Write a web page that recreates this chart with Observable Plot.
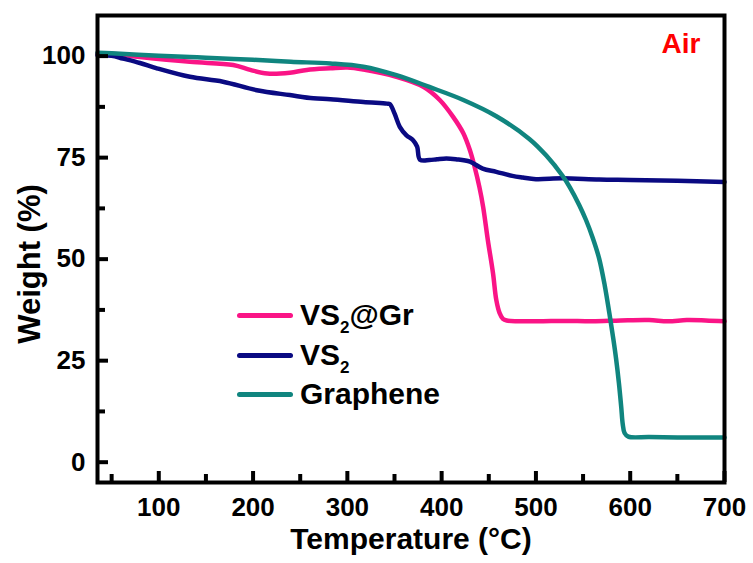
<!DOCTYPE html>
<html>
<head>
<meta charset="utf-8">
<script src="https://cdn.jsdelivr.net/npm/d3@7"></script>
<script src="https://cdn.jsdelivr.net/npm/@observablehq/plot@0.6"></script>
<style>
  html, body { margin: 0; padding: 0; background: #fff; }
  #wrap { position: relative; width: 753px; height: 563px; font-family: "Liberation Sans", Arial, sans-serif; font-weight: bold; }
  .leg { position: absolute; display: flex; align-items: center; line-height: 1; transform: translateY(-50%); }
  .sw { width: 56px; height: 5px; border-radius: 3px; margin-right: 7px; }
  .lt { font-size: 30px; color: #000; white-space: nowrap; }
  .lt sub { font-size: 17px; vertical-align: -8px; line-height: 0; }
  #ylab { position: absolute; left: 29px; top: 264px; font-size: 31px; line-height: 1; white-space: nowrap; transform: translate(-50%, -50%) rotate(-90deg); color: #000; }
</style>
</head>
<body>
<div id="wrap"></div>
<script>
// ---- data ----
const grT = [35, 50, 80, 133, 179, 197, 215, 239, 257, 282, 300, 317, 352, 381, 398, 412, 423, 430, 435, 440, 444, 449, 454.5, 458, 461.5, 465, 469, 500, 530, 560, 590, 620, 640, 660, 680, 700];
const grW = [100.5, 100.6, 99.8, 98.6, 97.8, 96.6, 95.7, 95.9, 96.6, 97.0, 97.2, 96.7, 94.9, 92.4, 89.2, 85.1, 81.0, 76.8, 72.7, 67.8, 62.9, 54.7, 46.5, 39.9, 36.7, 35.3, 34.9, 34.7, 34.8, 34.7, 34.9, 35.0, 34.7, 35.0, 34.9, 34.7];

const vsT = [35, 50, 62, 80, 98, 133, 168, 204, 239, 264, 282, 317, 342, 345, 350, 355.6, 362.7, 369.7, 374, 377, 387, 395, 405, 415, 430, 443.5, 458, 475, 486, 500, 528, 567, 600, 650, 700];
const vsW = [100.2, 100.1, 99.4, 98.3, 97.0, 94.9, 93.7, 91.6, 90.4, 89.6, 89.4, 88.7, 88.3, 88.2, 85.9, 82.6, 80.5, 79.3, 77.7, 74.5, 74.4, 74.6, 74.8, 74.6, 74.0, 72.3, 71.5, 70.5, 70.1, 69.7, 69.9, 69.6, 69.5, 69.3, 69.0];

const gnT = [35, 50, 100, 133, 150, 200, 240, 282, 317, 352, 387, 423, 458, 493, 511, 528, 536, 546, 553, 560, 567, 573, 578, 582, 585, 588, 590.5, 592, 594, 598, 620, 650, 700];
const gnW = [100.8, 100.7, 100.1, 99.8, 99.6, 99.1, 98.6, 98.2, 97.4, 95.3, 92.4, 89.2, 85.2, 79.6, 75.5, 70.6, 67.7, 63.3, 59.7, 55.4, 50.2, 43.5, 36.5, 30.5, 25.5, 19.5, 13.5, 9.5, 7.2, 6.3, 6.2, 6.1, 6.1];

const seriesNames = ["VS2@Gr", "VS2", "Graphene"];
const legendLabels = ["VS<sub>2</sub>@Gr", "VS<sub>2</sub>", "Graphene"];
const seriesColors = ["#fa1486", "#0a0a82", "#10857f"];

const xMajor = [100, 200, 300, 400, 500, 600, 700];
const xMinor = [50, 150, 250, 350, 450, 550, 650];
const yMajor = [0, 25, 50, 75, 100];
const yMinor = [12.5, 37.5, 62.5, 87.5];

const xLabel = "Temperature (°C)";
const yLabel = "Weight (%)";
const note = "Air";

// ---- build table ----
const rows = [];
[[grT, grW], [vsT, vsW], [gnT, gnW]].forEach(([T, W], s) => {
  T.forEach((t, i) => rows.push({series: seriesNames[s], t, w: W[i]}));
});

const W = 753, H = 563, mL = 97, mR = 29, mT = 15, mB = 81;
const fw = W - mL - mR, fh = H - mT - mB;

const chart = Plot.plot({
  width: W,
  height: H,
  marginLeft: mL,
  marginRight: mR,
  marginTop: mT,
  marginBottom: mB,
  style: {fontFamily: "'Liberation Sans', Arial, sans-serif", fontWeight: "bold", fontSize: "26px", color: "#000", background: "#fff"},
  x: {domain: [35, 700]},
  y: {domain: [-5, 110]},
  color: {domain: seriesNames, range: seriesColors},
  marks: [
    Plot.line(rows, {x: "t", y: "w", z: "series", stroke: "series", strokeWidth: 4.5, curve: "catmull-rom"}),
    // tick labels
    Plot.axisX(xMajor, {tickSize: 0, tickPadding: 15, label: null}),
    Plot.axisY(yMajor, {tickSize: 0, tickPadding: 12, label: null}),
    // inward ticks
    Plot.tickX(xMajor, {x: d => d, insetTop: fh - 11, stroke: "#000", strokeWidth: 4}),
    Plot.tickX(xMinor, {x: d => d, insetTop: fh - 8, stroke: "#000", strokeWidth: 4}),
    Plot.tickY(yMajor, {y: d => d, insetRight: fw - 11, stroke: "#000", strokeWidth: 4}),
    Plot.tickY(yMinor, {y: d => d, insetRight: fw - 8, stroke: "#000", strokeWidth: 4}),
    Plot.frame({stroke: "#000", strokeWidth: 4}),
    Plot.text([xLabel], {frameAnchor: "bottom", dy: 66, lineAnchor: "bottom", fontSize: 30, fontWeight: "bold", text: d => d}),
    Plot.text([note], {frameAnchor: "top-right", dx: -24, dy: 18, lineAnchor: "top", textAnchor: "end", fontSize: 28, fontWeight: "bold", fill: "#ff0000", text: d => d})
  ]
});

const wrap = document.getElementById("wrap");
wrap.appendChild(chart);

// ---- y-axis title (HTML overlay) ----
const yl = document.createElement("div");
yl.id = "ylab";
yl.textContent = yLabel;
wrap.appendChild(yl);

// ---- legend (HTML overlay) ----
const legTop = [315, 355, 394];
legendLabels.forEach((lab, i) => {
  const row = document.createElement("div");
  row.className = "leg";
  row.style.left = "237px";
  row.style.top = legTop[i] + "px";
  row.innerHTML = `<div class="sw" style="background:${seriesColors[i]}"></div><div class="lt">${lab}</div>`;
  wrap.appendChild(row);
});
</script>
</body>
</html>
